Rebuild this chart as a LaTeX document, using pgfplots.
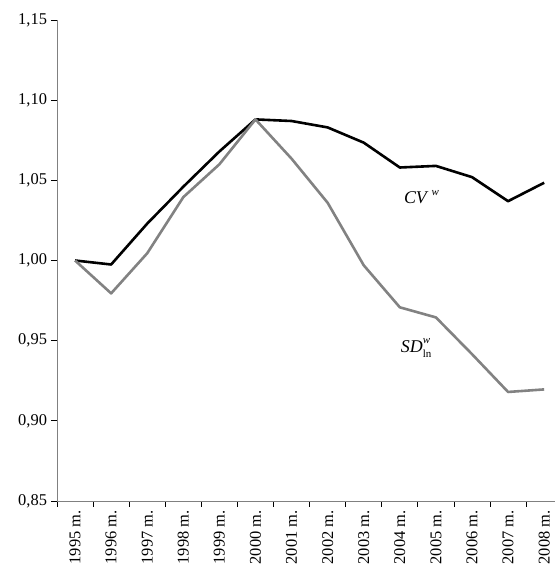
\documentclass[border=0pt]{standalone}
\usepackage{pgfplots}
\pgfplotsset{compat=1.18}
\usepackage{fontspec}
\setmainfont{Liberation Serif}
\usetikzlibrary{calc}

\definecolor{axisgray}{RGB}{128,128,128}
\definecolor{sdgray}{RGB}{130,130,130}

\newcommand{\smallsup}[1]{\raisebox{1.05ex}{\fontsize{11}{12}\selectfont\itshape #1}}
\newcommand{\smallsub}[1]{\raisebox{-0.55ex}{\fontsize{11}{12}\selectfont #1}}

\begin{document}
\begin{tikzpicture}
\begin{axis}[
  name=ax,
  scale only axis,
  width=498bp, height=481bp,
  xmin=-0.5, xmax=13.3,
  ymin=0.85, ymax=1.15,
  axis x line*=bottom,
  axis y line*=left,
  axis line style={axisgray, line width=0.9bp},
  tick align=outside,
  major tick length=5.5bp,
  tick style={black, line width=0.8bp},
  ytick={0.85,0.90,0.95,1.00,1.05,1.10,1.15},
  yticklabel style={
    /pgf/number format/fixed,
    /pgf/number format/fixed zerofill,
    /pgf/number format/precision=2,
    /pgf/number format/use comma,
    /pgf/number format/assume math mode=true,
    font=\fontsize{16.5}{18}\selectfont, xshift=-1bp},
  xtick={-0.5,0.5,...,12.5},
  xticklabels={},
  extra x ticks={0,1,...,13},
  extra x tick labels={1995 m.,1996 m.,1997 m.,1998 m.,1999 m.,2000 m.,2001 m.,2002 m.,2003 m.,2004 m.,2005 m.,2006 m.,2007 m.,2008 m.},
  extra x tick style={
    major tick length=0pt,
    tick label style={rotate=90, anchor=east, font=\fontsize{16.5}{18}\selectfont, xshift=-6bp}},
  clip=false,
]
% CV^w
\addplot[black, line width=2.6bp, line join=round] coordinates {
  (0,1.000) (1,0.9975) (2,1.023) (3,1.046) (4,1.068) (5,1.088) (6,1.087)
  (7,1.083) (8,1.0735) (9,1.058) (10,1.059) (11,1.052) (12,1.037) (13,1.0485)
};
% SD_ln^w
\addplot[sdgray, line width=2.6bp, line join=round] coordinates {
  (0,1.000) (1,0.9795) (2,1.0045) (3,1.0395) (4,1.060) (5,1.088) (6,1.0635)
  (7,1.036) (8,0.997) (9,0.9708) (10,0.9645) (11,0.9416) (12,0.918) (13,0.9196)
};
\node[font=\fontsize{18}{20}\selectfont] at (axis cs:9.6,1.0395)
  {\textit{CV}\,\smallsup{w}};
\node[font=\fontsize{18}{20}\selectfont] at (axis cs:9.45,0.9454)
  {\textit{SD}\rlap{\smallsup{w}}\smallsub{ln}};
\end{axis}
\pgfresetboundingbox
\path[use as bounding box] ($(ax.south west)+(-57bp,-72bp)$) rectangle ($(ax.north east)+(0bp,20bp)$);
\end{tikzpicture}
\end{document}
